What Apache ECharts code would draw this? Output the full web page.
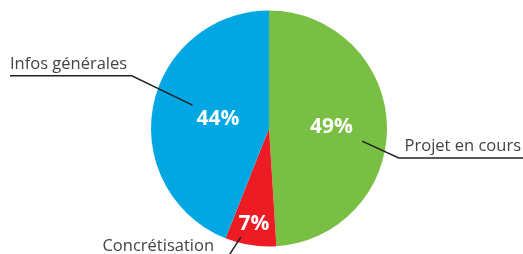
<!DOCTYPE html>
<html>
<head>
<meta charset="utf-8">
<script src="https://cdn.jsdelivr.net/npm/echarts@6/dist/echarts.min.js"></script>
<style>
  html, body { margin: 0; padding: 0; background: #fff; }
  #main { width: 523px; height: 254px; }
</style>
</head>
<body>
<div id="main"></div>
<script>
  // data
  var categories = ['Projet en cours', 'Concrétisation', 'Infos générales'];
  var values = [49, 7, 44];
  var colors = ['#79bf43', '#ed1c24', '#00a7e3'];

  // layout
  var cx = 269, cy = 128.5, R = 118;
  var innerLabelR = [0.53, 0.82, 0.44];
  // guide lines: start and elbow in polar coords (deg, px), then horizontal to edgeX
  var guides = [
    { a0: -7.7, r0: 94, a1: -12.8, r1: 133, edgeX: 523, textX: 521, align: 'right' },
    { a0: -104.5, r0: 112, a1: -109, r1: 147, edgeX: 98, textX: 214, align: 'right', textY: 246 },
    { a0: 163, r0: 80, a1: 159, r1: 147, edgeX: 10, textX: 10, align: 'left' }
  ];

  var total = values.reduce(function (s, v) { return s + v; }, 0);
  var midAngles = [];
  var start = 90;
  values.forEach(function (v) {
    var span = v / total * 360;
    midAngles.push(start - span / 2);
    start -= span;
  });

  function polar(a, r) {
    var rad = a * Math.PI / 180;
    return [cx + r * Math.cos(rad), cy - r * Math.sin(rad)];
  }

  var data = categories.map(function (c, i) {
    return { name: c, value: values[i] };
  });

  var chart = echarts.init(document.getElementById('main'));
  chart.setOption({
    animation: false,
    color: colors,
    series: [{
      type: 'pie',
      center: [cx, cy],
      radius: R,
      startAngle: 90,
      clockwise: true,
      silent: true,
      data: data,
      label: {
        position: 'inside',
        formatter: '{c}%',
        color: '#fff',
        fontFamily: 'Open Sans',
        fontWeight: 'bold',
        fontSize: 21
      },
      labelLine: { show: false },
      labelLayout: function (p) {
        var pt = polar(midAngles[p.dataIndex], R * innerLabelR[p.dataIndex]);
        return { x: pt[0], y: pt[1], align: 'center', verticalAlign: 'middle' };
      }
    }, {
      type: 'pie',
      center: [cx, cy],
      radius: R,
      startAngle: 90,
      clockwise: true,
      silent: true,
      z: 3,
      data: data,
      itemStyle: { color: 'rgba(0,0,0,0)' },
      emphasis: { disabled: true },
      label: {
        position: 'outside',
        formatter: '{b}',
        color: '#444',
        fontFamily: 'Open Sans',
        fontSize: 16.5,
        overflow: 'none',
        width: 300
      },
      labelLine: { show: true, lineStyle: { color: '#222', width: 1.5 } },
      labelLayout: function (p) {
        var g = guides[p.dataIndex];
        var s = polar(g.a0, g.r0);
        var e = polar(g.a1, g.r1);
        var ty = g.textY != null ? g.textY : e[1] - 12;
        return {
          x: g.textX,
          y: ty,
          align: g.align,
          verticalAlign: 'middle',
          labelLinePoints: [s, e, [g.edgeX, e[1]]]
        };
      }
    }]
  });
</script>
</body>
</html>
